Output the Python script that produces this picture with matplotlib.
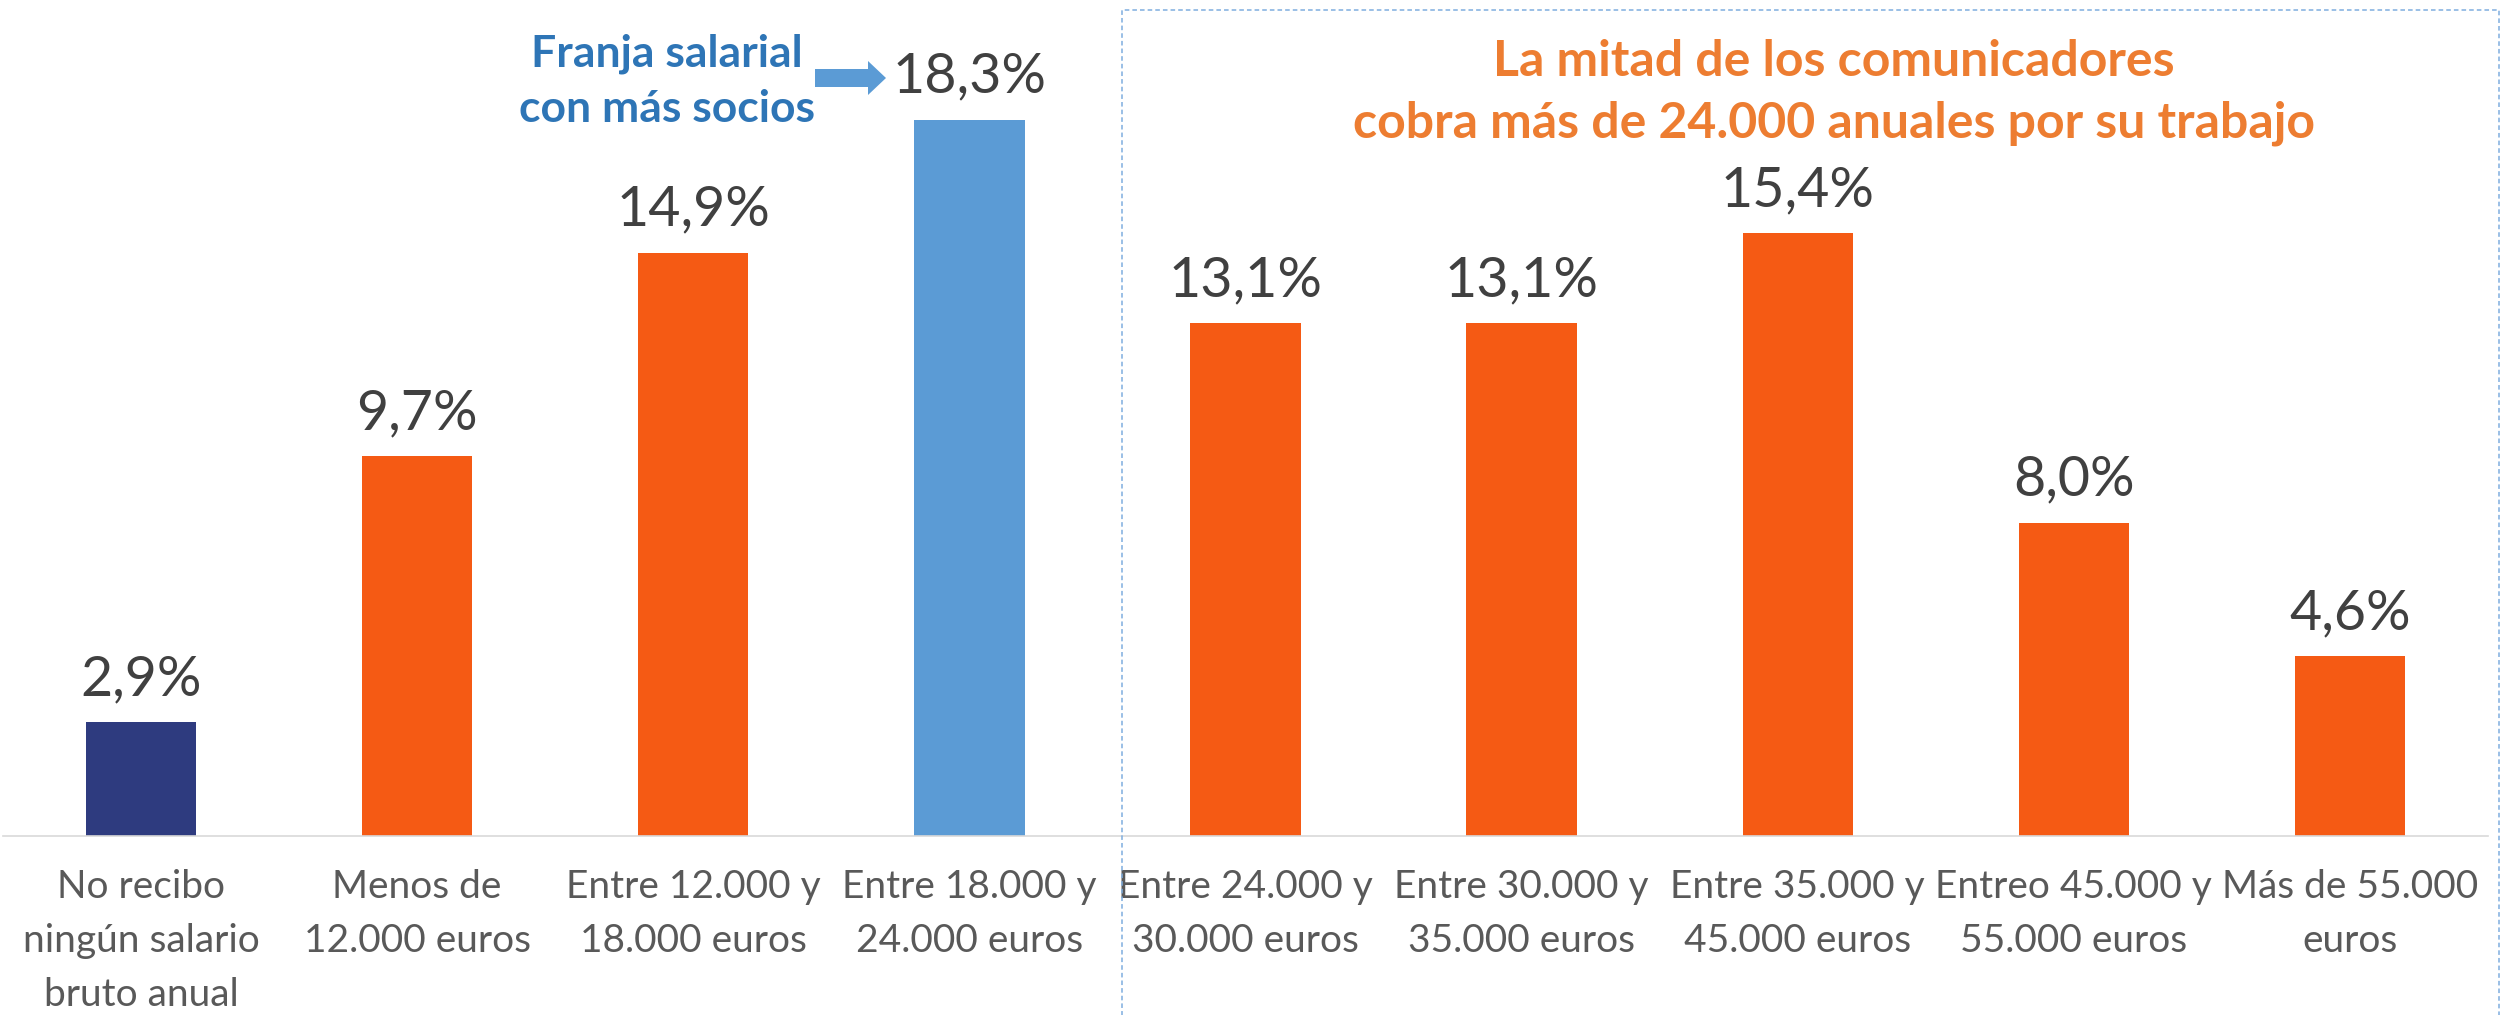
import matplotlib
matplotlib.use("Agg")
import matplotlib.pyplot as plt
from matplotlib.patches import Rectangle, FancyArrow

plt.rcParams['font.family'] = ['Lato', 'DejaVu Sans']

categories = [
    "No recibo\nningún salario\nbruto anual",
    "Menos de\n12.000 euros",
    "Entre 12.000 y\n18.000 euros",
    "Entre 18.000 y\n24.000 euros",
    "Entre 24.000 y\n30.000 euros",
    "Entre 30.000 y\n35.000 euros",
    "Entre 35.000 y\n45.000 euros",
    "Entreo 45.000 y\n55.000 euros",
    "Más de 55.000\neuros",
]
values = [2.9, 9.7, 14.9, 18.3, 13.1, 13.1, 15.4, 8.0, 4.6]
blue_note = ["Franja salarial", "con más socios"]
orange_note = ["La mitad de los comunicadores", "cobra más de 24.000 anuales por su trabajo"]

W, H = 2501, 1015
fig = plt.figure(figsize=(W / 100, H / 100), dpi=100)


def fx(px):
    return px / W


def fy(py):
    return 1 - py / H


ax = fig.add_axes([fx(3), fy(836), (2488 - 3) / W, 822 / H])
x = list(range(len(values)))
colors = ['#2E3B7F', '#F55A14', '#F55A14', '#5B9BD5'] + ['#F55A14'] * 5
ax.bar(x, values, width=0.40, color=colors)
ax.set_xlim(-0.5, len(values) - 0.5)
ax.set_ylim(0, 21)
for s in ['top', 'left', 'right']:
    ax.spines[s].set_visible(False)
ax.spines['bottom'].set_color('#D9D9D9')
ax.spines['bottom'].set_linewidth(1.2)
ax.set_yticks([])
ax.set_xticks(x, categories)
ax.tick_params(axis='x', length=0, pad=24, labelsize=28, labelcolor='#595959')
for lbl in ax.get_xticklabels():
    lbl.set_linespacing(1.62)

for i, v in enumerate(values):
    ax.annotate(f"{v:.1f}".replace('.', ',') + '%', (i, v), xytext=(0, 19.5),
                textcoords='offset points', ha='center', va='baseline',
                fontsize=40, color='#404040')

# dashed box
fig.patches.append(Rectangle((fx(1122), fy(1030)), fx(2499) - fx(1122), fy(10) - fy(1030),
                             transform=fig.transFigure, fill=False,
                             ls=(0, (3, 2)), lw=1.1, ec='#7FAEDF'))

# blue note
fig.text(fx(667), fy(66), blue_note[0], ha='center', va='baseline', fontsize=32,
         fontweight='bold', color='#2E75B6')
fig.text(fx(667), fy(122), blue_note[1], ha='center', va='baseline', fontsize=32,
         fontweight='bold', color='#2E75B6')
fig.patches.append(FancyArrow(fx(815), fy(78), fx(886) - fx(815), 0,
                              width=18 / H, head_width=34 / H, head_length=18 / W,
                              length_includes_head=True, transform=fig.transFigure,
                              color='#5B9BD5', lw=0))

# orange note
fig.text(fx(1834), fy(76), orange_note[0], ha='center', va='baseline', fontsize=36,
         fontweight='bold', color='#ED7D31')
fig.text(fx(1834), fy(137), orange_note[1], ha='center', va='baseline', fontsize=36,
         fontweight='bold', color='#ED7D31')

fig.savefig('out.png', dpi=100)
